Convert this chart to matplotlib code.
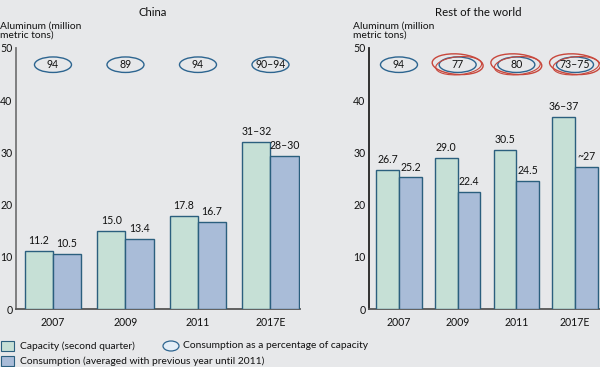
import matplotlib
matplotlib.use("Agg")
import matplotlib.pyplot as plt
from matplotlib.patches import Ellipse, Rectangle
from matplotlib.transforms import ScaledTranslation
import numpy as np

# ---------------- data ----------------
years = ["2007", "2009", "2011", "2017E"]

china_capacity = [11.2, 15.0, 17.8, 32.0]
china_consumption = [10.5, 13.4, 16.7, 29.3]
china_capacity_labels = ["11.2", "15.0", "17.8", "31–32"]
china_consumption_labels = ["10.5", "13.4", "16.7", "28–30"]
china_pct = ["94", "89", "94", "90–94"]
china_flag = [False, False, False, False]

row_capacity = [26.7, 29.0, 30.5, 36.8]
row_consumption = [25.2, 22.4, 24.5, 27.2]
row_capacity_labels = ["26.7", "29.0", "30.5", "36–37"]
row_consumption_labels = ["25.2", "22.4", "24.5", "~27"]
row_pct = ["94", "77", "80", "73–75"]
row_flag = [False, True, True, True]

y_ticks = [0, 10, 20, 30, 40, 50]
panel_titles = ["China", "Rest of the world"]
y_label = "Aluminum (million\nmetric tons)"
legend_labels = ["Capacity (second quarter)",
                 "Consumption (averaged with previous year until 2011)",
                 "Consumption as a percentage of capacity"]

# ---------------- style ----------------
BG = "#e7e8ea"
CAP = "#c6e0d6"
CON = "#a9bcd8"
EDGE = "#2b5f7e"
ELL = "#2d6590"
RED = "#c8473c"
FONT = ["Lato", "DejaVu Sans"]
plt.rcParams["font.family"] = FONT
plt.rcParams["text.color"] = "#111111"

W, H = 600, 367
fig = plt.figure(figsize=(W / 100, H / 100), dpi=100, facecolor=BG)


def px_axes(x0, x1, ytop, ybot):
    return fig.add_axes([x0 / W, 1 - ybot / H, (x1 - x0) / W, (ybot - ytop) / H])


def panel(ax, cap, con, cap_lab, con_lab, pct, flag, xlim, spine_color):
    ax.set_facecolor(BG)
    x = np.arange(len(years))
    w = 0.388
    ax.bar(x - w / 2, cap, w, color=CAP, edgecolor=EDGE, linewidth=1.0, zorder=3)
    ax.bar(x + w / 2, con, w, color=CON, edgecolor=EDGE, linewidth=1.0, zorder=3)
    for xi, v, t in zip(x - w / 2, cap, cap_lab):
        ax.text(xi, v + 0.9, t, ha="center", va="bottom", fontsize=7.6)
    for xi, v, t in zip(x + w / 2, con, con_lab):
        ax.text(xi, v + 0.9, t, ha="center", va="bottom", fontsize=7.6)
    ax.set_xlim(*xlim)
    ax.set_ylim(0, 50)
    ax.set_yticks(y_ticks)
    ax.set_yticklabels([str(t) for t in y_ticks], fontsize=7.6)
    ax.set_xticks(x)
    ax.set_xticklabels(years, fontsize=7.6)
    ax.tick_params(axis="both", length=0, labelcolor="#111111")
    ax.tick_params(axis="y", pad=2.5)
    ax.tick_params(axis="x", pad=6)
    for s in ("top", "right"):
        ax.spines[s].set_visible(False)
    ax.spines["left"].set_color(spine_color)
    ax.spines["left"].set_linewidth(1.3)
    ax.spines["bottom"].set_color("#555555")
    ax.spines["bottom"].set_linewidth(1.3)
    # percentage ellipses (sizes in pixels)
    for xi, t, f in zip(x, pct, flag):
        tr = fig.dpi_scale_trans + ScaledTranslation(xi, 46.8, ax.transData)
        ax.add_patch(Ellipse((0, 0), 0.37, 0.155, transform=tr, facecolor="none",
                             edgecolor=ELL, linewidth=1.0, zorder=4, clip_on=False))
        if f:
            ax.add_patch(Ellipse((0, 0.005), 0.51, 0.205, angle=-4, transform=tr,
                                 facecolor="none", edgecolor=RED, linewidth=1.0,
                                 zorder=4, clip_on=False))
            ax.add_patch(Ellipse((0.01, -0.01), 0.46, 0.18, angle=5, transform=tr,
                                 facecolor="none", edgecolor=RED, linewidth=0.8,
                                 zorder=4, clip_on=False))
        ax.text(xi, 46.8, t, ha="center", va="center", fontsize=7.6, zorder=5)


ax1 = px_axes(16, 300, 48, 309)
ax2 = px_axes(369, 600, 48, 309)
panel(ax1, china_capacity, china_consumption, china_capacity_labels,
      china_consumption_labels, china_pct, china_flag, (-0.51, 3.407), "#777777")
panel(ax2, row_capacity, row_consumption, row_capacity_labels,
      row_consumption_labels, row_pct, row_flag, (-0.511, 3.426), "#222222")

# ---------------- overlay for titles & legend ----------------
ov = fig.add_axes([0, 0, 1, 1], facecolor="none")
ov.set_xlim(0, W)
ov.set_ylim(H, 0)
ov.axis("off")

ov.text(153, 13, panel_titles[0], ha="center", va="center", fontsize=8.2)
ov.text(478, 13, panel_titles[1], ha="center", va="center", fontsize=8.2)
ov.text(0, 22, y_label, ha="left", va="top", fontsize=7.4, linespacing=0.95)
ov.text(353, 22, y_label, ha="left", va="top", fontsize=7.4, linespacing=0.95)

ov.add_patch(Rectangle((1, 341), 13, 10, facecolor=CAP, edgecolor=EDGE, linewidth=0.8))
ov.add_patch(Rectangle((1, 356), 13, 10, facecolor=CON, edgecolor=EDGE, linewidth=0.8))
ov.text(20, 346, legend_labels[0], ha="left", va="center", fontsize=7.4)
ov.text(20, 361, legend_labels[1], ha="left", va="center", fontsize=7.4)
ov.add_patch(Ellipse((171, 346), 16, 10, facecolor="#e4eef7", edgecolor=ELL, linewidth=0.9))
ov.text(183, 346, legend_labels[2], ha="left", va="center", fontsize=7.4)

fig.savefig("out.png", dpi=100, facecolor=BG)
